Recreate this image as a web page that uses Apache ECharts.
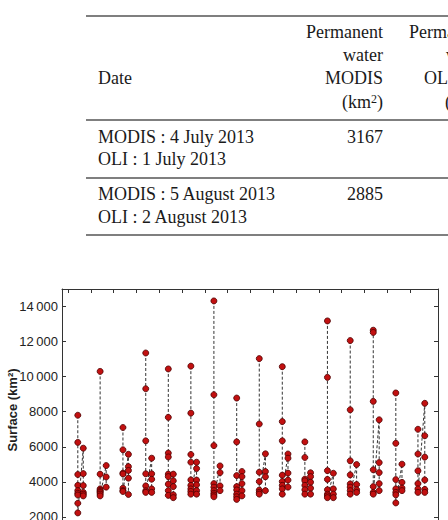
<!DOCTYPE html>
<html>
<head>
<meta charset="utf-8">
<script src="https://cdn.jsdelivr.net/npm/echarts@6/dist/echarts.min.js"></script>
<style>
  html, body { margin: 0; padding: 0; background: #fff; overflow: hidden; }
  #chart { width: 448px; height: 600px; }
</style>
</head>
<body>
<div id="chart"></div>
<script>
// tick positions on the time axis (start of each year)
const yearTicks = [2001, 2002, 2003, 2004, 2005, 2006, 2007, 2008, 2009, 2010, 2011, 2012, 2013, 2014, 2015, 2016]
const yTicks = [2000, 4000, 6000, 8000, 10000, 12000, 14000]

// dates (decimal years) of the flood-peak column and the late-season column of each year
const peakDates = [2001.43, 2002.41, 2003.41, 2004.41, 2005.40, 2006.39, 2007.40, 2008.40,
  2009.39, 2010.40, 2011.39, 2012.38, 2013.38, 2014.39, 2015.38, 2016.35]
const lateDates = [2001.67, 2002.675, 2003.65, 2004.67, 2005.62, 2006.64, 2007.67, 2008.63,
  2009.66, 2010.65, 2011.64, 2012.64, 2013.66, 2014.65, 2015.65, 2016.65]

// surface (km2)
const peakValues = [
  [7800, 6250, 4420, 3800, 3500, 3350, 3250, 2780, 2230],
  [10300, 4440, 3600, 3520, 3450, 3390, 3300, 3200],
  [7100, 5830, 4500, 4450, 3640, 3500, 3450],
  [11350, 9310, 6340, 4460, 3770, 3490, 3400],
  [10440, 7680, 5640, 5420, 4440, 4300, 3870, 3500, 3230],
  [10600, 7920, 5560, 5120, 4110, 3800, 3600, 3450, 3300],
  [14320, 8970, 6070, 3900, 3700, 3500, 3350, 3250, 3150],
  [8780, 6280, 4360, 3730, 3540, 3300, 3150, 3000],
  [11030, 7300, 4550, 4020, 3530, 3400, 3300],
  [10570, 7440, 6340, 4380, 4020, 3800, 3600, 3300],
  [6280, 5390, 4160, 4060, 3800, 3550, 3300],
  [13180, 9960, 4640, 4140, 3550, 3300, 3200, 3100],
  [12060, 8110, 5200, 4400, 3880, 3700, 3500, 3300],
  [12650, 12520, 8590, 4690, 3730, 3400, 3300],
  [9070, 6200, 4130, 3600, 3400, 3260, 2800],
  [7000, 5590, 4630, 3900, 3600, 3400]
]
const lateValues = [
  [5920, 4470, 3790, 3400, 3300, 3200],
  [4930, 4280, 3700],
  [5570, 4870, 4650, 4210, 3280],
  [5350, 4460, 4150, 3600, 3400],
  [4440, 4060, 3730, 3260, 3100],
  [5120, 4760, 4100, 3830, 3500, 3300],
  [4910, 4530, 3770, 3500],
  [4590, 4300, 3900, 3500, 3200],
  [5600, 4590, 4290, 3500],
  [5590, 5350, 4500, 4100, 3700],
  [4520, 4300, 3980, 3640, 3300],
  [4490, 3600, 3300, 3100],
  [4990, 3850, 3550, 3400],
  [7540, 5100, 4530, 3900, 3500],
  [5010, 3970, 3650, 3500],
  [8480, 6630, 5410, 4110, 3570, 3400]
]

// one line, broken between the years
const seriesData = []
peakDates.forEach((d, i) => {
  peakValues[i].forEach(v => seriesData.push([d, v]))
  lateValues[i].forEach(v => seriesData.push([lateDates[i], v]))
  seriesData.push([lateDates[i] + 0.1, '-'])
})

const axisColor = '#333'
const serif = '"Liberation Serif", "Times New Roman", serif'
const sans = '"Liberation Sans", Arial, sans-serif'

const tableText = (text, x, y, align) => ({
  type: 'text', x: x, y: y,
  style: {
    text: text, fill: '#1a1a1a', font: '18px ' + serif, textAlign: align || 'left', textVerticalAlign: 'middle',
    rich: { sup: { fontSize: 12, fontFamily: serif, fill: '#1a1a1a', verticalAlign: 'top', lineHeight: 18 } }
  }
})
const rule = y => ({
  type: 'line', shape: { x1: 86, y1: y, x2: 448, y2: y },
  style: { stroke: '#555', lineWidth: 1.4 }
})

const frameAxis = (pos, extra) => Object.assign({
  type: 'value', position: pos,
  axisLine: { show: true, onZero: false, lineStyle: { color: axisColor } },
  axisLabel: { show: false }, splitLine: { show: false }
}, extra)

const myChart = echarts.init(document.getElementById('chart'), null, { renderer: 'svg' })

const option = {
  backgroundColor: '#fff',
  animation: false,
  grid: { left: 62, right: 10, top: 289, bottom: 48 },
  xAxis: [
    frameAxis('bottom', {
      min: 2000.737, max: 2017.23,
      axisTick: { show: true, inside: true, length: 4, customValues: yearTicks, lineStyle: { color: axisColor } }
    }),
    frameAxis('top', {
      min: 2000.737, max: 2017.23,
      axisTick: { show: true, inside: true, length: 4, customValues: yearTicks, lineStyle: { color: axisColor } }
    })
  ],
  yAxis: [
    frameAxis('left', {
      min: 0, max: 15000,
      axisTick: { show: true, inside: true, length: 4, customValues: yTicks, lineStyle: { color: axisColor } },
      axisLabel: {
        show: true, customValues: yTicks, margin: 4, color: '#222', fontSize: 13, fontFamily: sans,
        formatter: v => v >= 10000 ? String(v).slice(0, -3) + '\u2009' + String(v).slice(-3) : String(v)
      }
    }),
    frameAxis('right', {
      min: 0, max: 15000,
      axisTick: { show: true, inside: true, length: 4, customValues: yTicks, lineStyle: { color: axisColor } }
    })
  ],
  series: [
    {
      type: 'line', xAxisIndex: 0, yAxisIndex: 0,
      data: seriesData, connectNulls: false,
      symbol: 'circle', symbolSize: 6, showAllSymbol: true,
      lineStyle: { color: '#333', width: 1, type: [3, 2] },
      itemStyle: { color: '#c21010', borderColor: '#4a0000', borderWidth: 0.8 }
    }
  ],
  graphic: [
    {
      type: 'text', x: 12, y: 410, rotation: Math.PI / 2,
      style: { text: 'Surface (km²)', fill: '#222', font: 'bold 13px ' + sans, textAlign: 'center', textVerticalAlign: 'middle' }
    },
    rule(16), rule(120), rule(178), rule(235),
    tableText('Permanent', 383, 32, 'right'),
    tableText('water', 383, 55, 'right'),
    tableText('MODIS', 383, 78, 'right'),
    tableText('(km{sup|2})', 383, 102, 'right'),
    tableText('Permanent', 486, 32, 'right'),
    tableText('water', 486, 55, 'right'),
    tableText('OLI', 424, 78, 'left'),
    tableText('(km{sup|2})', 486, 102, 'right'),
    tableText('Date', 98, 78),
    tableText('MODIS : 4 July 2013', 98, 137),
    tableText('OLI : 1 July 2013', 98, 159),
    tableText('3167', 383, 137, 'right'),
    tableText('MODIS : 5 August 2013', 98, 194),
    tableText('OLI : 2 August 2013', 98, 217),
    tableText('2885', 383, 194, 'right')
  ]
}
myChart.setOption(option)
window.addEventListener('resize', () => myChart.resize())
</script>
</body>
</html>
